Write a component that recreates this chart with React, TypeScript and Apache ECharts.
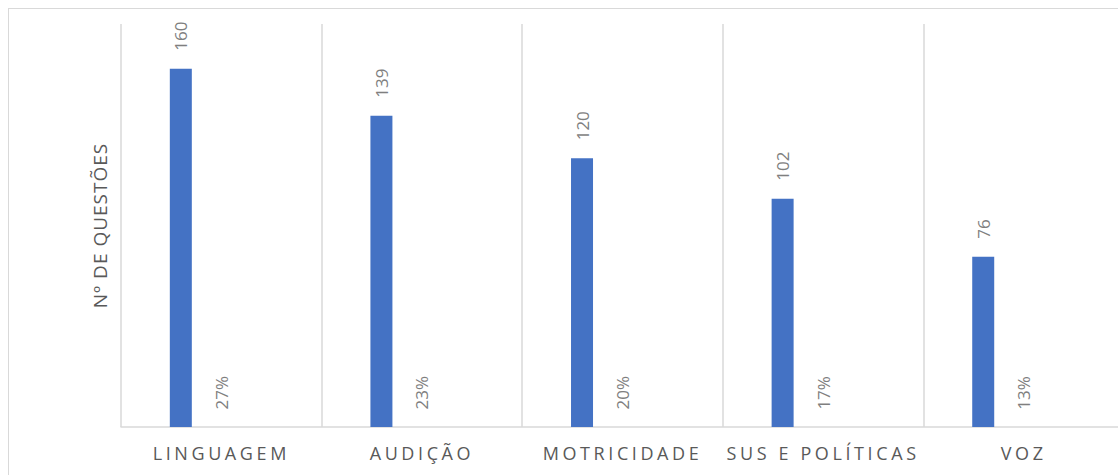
import React, { useEffect, useRef } from "react";
import * as echarts from "echarts";

const categories = ["LINGUAGEM", "AUDIÇÃO", "MOTRICIDADE", "SUS E POLÍTICAS", "VOZ"];
const questionCounts = [160, 139, 120, 102, 76];
const questionShares = [0.27, 0.23, 0.2, 0.17, 0.13];
const yAxisName = "Nº DE QUESTÕES";

export default function App() {
  const ref = useRef<HTMLDivElement | null>(null);

  useEffect(() => {
    const el = ref.current!;
    const chart = echarts.init(el, undefined, { renderer: "svg" });

    const labelBase = {
      show: true,
      position: "top" as const,
      rotate: 90,
      align: "left" as const,
      verticalAlign: "middle" as const,
      color: "#7f7f7f",
      fontSize: 17,
      fontFamily: "Open Sans",
    };

    chart.setOption({
      animation: false,
      backgroundColor: "#ffffff",
      grid: { left: 112, right: 15, top: 15, bottom: 48 },
      xAxis: {
        type: "category",
        data: categories,
        axisLine: { lineStyle: { color: "#d9d9d9", width: 1.5 } },
        axisTick: { show: false },
        splitLine: { show: true, lineStyle: { color: "#d9d9d9", width: 1.5 } },
        axisLabel: {
          color: "#595959",
          fontSize: 18,
          fontFamily: "Open Sans",
          margin: 17,
        },
      },
      yAxis: {
        type: "value",
        min: 0,
        max: 180,
        axisLabel: { show: false },
        axisLine: { show: false },
        axisTick: { show: false },
        splitLine: { show: false },
        name: yAxisName,
        nameLocation: "middle",
        nameGap: 12,
        nameTextStyle: { color: "#595959", fontSize: 19, fontFamily: "Open Sans" },
      },
      series: [
        {
          type: "bar",
          data: questionCounts,
          barWidth: 22,
          barGap: "84%",
          itemStyle: { color: "#4472c4" },
          label: { ...labelBase, distance: 18 },
        },
        {
          type: "bar",
          data: questionShares,
          barWidth: 22,
          barGap: "84%",
          itemStyle: { color: "rgba(0,0,0,0)" },
          label: {
            ...labelBase,
            distance: 17,
            formatter: (p: any) => `${Math.round(p.value * 100)}%`,
          },
        },
        {
          type: "bar",
          data: [],
          barWidth: 22,
          barGap: "84%",
        },
      ],
    });

    const applySpacing = () => {
      el.querySelectorAll("text").forEach((t) => {
        const s = t.textContent || "";
        if (categories.includes(s)) t.setAttribute("letter-spacing", "3.6");
        else if (s === yAxisName) t.setAttribute("letter-spacing", "1");
      });
    };
    applySpacing();
    chart.on("finished", applySpacing);

    return () => {
      chart.dispose();
    };
  }, []);

  return (
    <div
      style={{
        position: "fixed",
        left: 0,
        top: 0,
        width: 1118,
        height: 475,
        overflow: "hidden",
        background: "#ffffff",
      }}
    >
      <div
        style={{
          position: "absolute",
          left: 8,
          top: 8,
          width: 1200,
          height: 600,
          borderTop: "1.5px solid #d9d9d9",
          borderLeft: "1.5px solid #d9d9d9",
          boxSizing: "border-box",
        }}
      >
        <div ref={ref} style={{ width: 1130, height: 466 }} />
      </div>
    </div>
  );
}
